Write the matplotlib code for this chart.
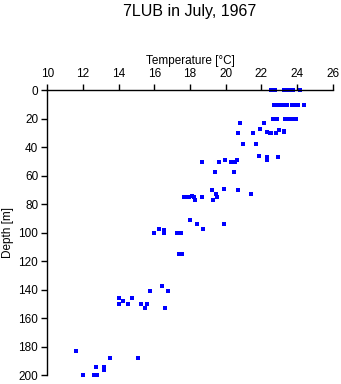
import matplotlib
matplotlib.use("Agg")
import matplotlib.pyplot as plt

plt.rcParams['font.family'] = ['Liberation Sans', 'DejaVu Sans']

# Temperature (°C) and depth (m) of observations
temperature = [
    22.56, 22.78, 23.26, 23.37, 23.49, 23.6, 23.71, 23.77, 24.18,
    22.69, 22.93, 23.18, 23.3, 23.41, 23.69, 23.83, 24.07, 24.37,
    22.68, 22.79, 22.9, 23.3, 23.46, 23.66, 23.8, 23.94,
    20.82, 22.16, 21.92, 23.25,
    20.71, 21.55, 22.33, 22.48, 22.56, 22.84, 23.0, 23.28,
    20.99, 21.72,
    21.89, 22.33, 22.3, 22.91,
    18.69, 19.64, 19.96, 20.3, 20.52, 20.65,
    19.42, 20.48,
    19.93, 20.71, 19.23, 19.44, 19.53, 21.44, 19.3, 18.65,
    17.68, 17.82, 17.96, 18.09, 18.22, 18.3,
    18.02, 18.41, 19.89, 18.75,
    16.28, 16.56, 16.0, 16.52, 17.29, 17.51,
    17.4, 17.55,
    16.45, 16.77, 15.76, 14.04, 14.77, 14.26, 14.04, 14.5, 15.27, 15.57, 15.48, 16.6,
    11.61, 15.1, 13.51, 12.73, 13.2, 13.2, 12.02, 12.63, 12.77,
]
depth = [
    0, 0, 0, 0, 0, 0, 0, 0, 0,
    10, 10, 10, 10, 10, 10, 10, 10, 10,
    20, 20, 20, 20, 20, 20, 20, 20,
    23, 23, 27.5, 28.5,
    30, 30, 29.5, 30, 30, 30, 28, 29.5,
    38, 38,
    46, 47, 49, 47,
    50, 50, 49, 50, 50, 49,
    57, 57,
    69, 70, 70, 73, 75, 73, 77, 75,
    75, 75, 75, 74, 75, 77,
    91, 94, 94, 97,
    97, 98, 100, 100, 100, 100,
    115, 115,
    137, 141, 141, 146, 146, 148, 150, 150, 150, 150, 153, 153,
    183, 188, 188, 194, 194, 196.5, 200, 200, 200,
]

title = "7LUB in July, 1967"
xlabel = "Temperature [\u00b0C]"
ylabel = "Depth [m]"
xticks = list(range(10, 27, 2))
yticks = list(range(0, 201, 20))

fig = plt.figure(figsize=(3.41, 3.84), dpi=100)
ax = fig.add_axes([0.1387, 0.0227, 0.9757 - 0.1387, 0.7648 - 0.0227])
ax.scatter(temperature, depth, marker='s', s=5, color='#0000ff', linewidths=0, clip_on=False)

ax.set_xlim(10, 26)
ax.set_ylim(200, 0)
ax.set_xticks(xticks)
ax.set_yticks(yticks)
ax.xaxis.tick_top()
ax.xaxis.set_label_position('top')
for s in ['right', 'bottom']:
    ax.spines[s].set_visible(False)
for s in ['left', 'top']:
    ax.spines[s].set_linewidth(1.0)
ax.tick_params(axis='both', direction='out', length=4, width=1.0, labelsize=8.5)
ax.tick_params(axis='x', pad=3.5)
ax.tick_params(axis='y', pad=2.5)
ax.set_xlabel(xlabel, fontsize=8.5, labelpad=3)
ax.set_ylabel(ylabel, fontsize=8.5, labelpad=3)
fig.text(0.557, 0.99, title, fontsize=11.5, ha='center', va='top')

fig.savefig("out.png", dpi=100)
